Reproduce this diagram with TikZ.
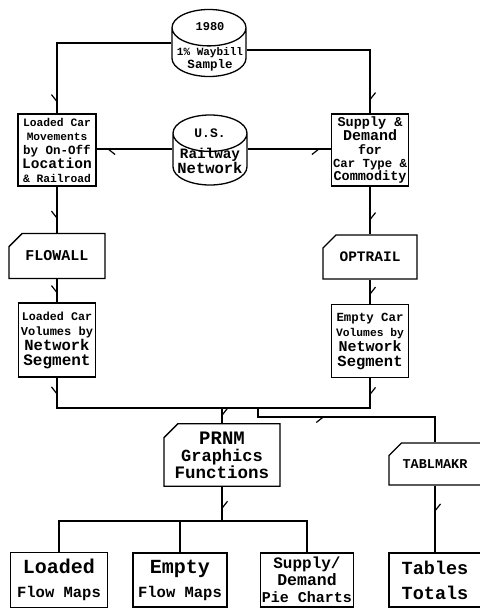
\documentclass[tikz,border=0pt]{standalone}
\usepackage{fontspec}
\setmonofont{Liberation Mono}
\usetikzlibrary{shapes.geometric,shapes.misc,arrows.meta,decorations.markings}

\newcommand\fsz[2]{{\fontsize{#1}{#1}\selectfont #2}}

\tikzset{
  lead/.style={font=\ttfamily\bfseries\fontsize{12}{#1}\selectfont},
  box/.style={draw, line width=1.3pt, rectangle, align=center, inner sep=1pt, lead=14pt},
  card/.style={box, chamfered rectangle, chamfered rectangle corners=north west, chamfered rectangle sep=7pt},
  drum/.style={draw, line width=1.3pt, cylinder, shape border rotate=90, aspect=0.52,
    minimum width=74pt, minimum height=67pt, inner sep=0pt, anchor=shape center},
  label/.style={align=center, inner sep=0pt, lead=14pt},
  flow/.style={line width=2.4pt},
  barb/.style={postaction={decorate}, decoration={markings, mark=at position #1 with
    {\arrow{Straight Barb[harpoon, length=7pt, width=11pt, line width=1.2pt]}}}},
  barbswap/.style={postaction={decorate}, decoration={markings, mark=at position #1 with
    {\arrow{Straight Barb[harpoon, swap, length=7pt, width=11pt, line width=1.2pt]}}}}
}

\begin{document}
\begin{tikzpicture}[x=1pt, y=-1pt]
\useasboundingbox (0,0) rectangle (479,609);

% data sources
\node[drum] (waybill) at (209,43) {\hspace*{70pt}};
\node[label, lead=13pt] (waybilltext) at (210,46.5) {\fsz{12}{1980}\\[12pt]\fsz{11}{1\% Waybill}\\\fsz{12.5}{Sample}};
\node[drum, minimum height=70pt] (network) at (210,150) {\hspace*{70pt}};
\node[label] (networktext) at (210,151.5) {\fsz{13}{U.S.}\\[7pt]\fsz{14.3}{Railway}\\\fsz{15.5}{Network}};

% first row
\node[box, minimum width=78pt, minimum height=72pt] (movements) at (57,150)
  {\fsz{11.3}{Loaded Car}\\\fsz{11.2}{Movements}\\\fsz{12.5}{by On-Off}\\\fsz{14.5}{Location}\\\fsz{11.3}{\& Railroad}};
\node[box, minimum width=77pt, minimum height=72pt, lead=13.3pt] (supply) at (370,150)
  {\fsz{13.5}{Supply \&}\\\fsz{15}{Demand}\\\fsz{13.3}{for}\\\fsz{12.3}{Car Type \&}\\\fsz{13.5}{Commodity}};

% programs
\node[card, minimum width=96pt, minimum height=45pt] (flowall) at (57,256) {\fsz{15}{FLOWALL}};
\node[card, minimum width=94pt, minimum height=44pt] (optrail) at (370,257) {\fsz{14.5}{OPTRAIL}};

% volumes
\node[box, minimum width=77pt, minimum height=74pt, lead=15pt] (loadvol) at (57,340)
  {\fsz{11.7}{Loaded Car}\\\fsz{12}{Volumes by}\\\fsz{15.5}{Network}\\\fsz{16}{Segment}};
\node[box, minimum width=77pt, minimum height=73pt, lead=15pt] (emptyvol) at (370,341)
  {\fsz{12.4}{Empty Car}\\\fsz{11.3}{Volumes by}\\\fsz{15}{Network}\\\fsz{15.5}{Segment}};

\node[card, minimum width=116pt, minimum height=57pt, lead=17pt] (prnm) at (222,455)
  {\fsz{19}{PRNM}\\\fsz{17}{Graphics}\\\fsz{17.5}{Functions}};
\node[card, minimum width=92pt, minimum height=42pt] (tablmakr) at (435,464) {\fsz{13.5}{TABLMAKR}};

% outputs
\node[box, minimum width=97pt, minimum height=55pt, lead=24pt] (loadmap) at (59,580)
  {\fsz{20}{Loaded}\\\fsz{15.5}{Flow Maps}};
\node[box, minimum width=94pt, minimum height=54pt, lead=24pt] (emptymap) at (180,580)
  {\fsz{20}{Empty}\\\fsz{15.5}{Flow Maps}};
\node[box, minimum width=93pt, minimum height=54pt, lead=17pt] (piechart) at (307,580)
  {\fsz{16}{Supply/}\\\fsz{16.5}{Demand}\\\fsz{15}{Pie Charts}};
\node[box, minimum width=92pt, minimum height=54pt, lead=25pt] (tables) at (435,580)
  {\fsz{18.5}{Tables}\\\fsz{18.5}{Totals}};

\coordinate (join) at (222,408);
\coordinate (tab) at (258,408);
\coordinate (split) at (222,521);

% connectors
\draw[flow, barbswap=-10pt] (waybill.shape center -| waybill.west) -| (movements.north);
\draw[flow, barb=-12pt] ([yshift=-7pt]waybill.shape center -| waybill.east) -| (supply.north);
\draw[flow, barb=-10pt] ([yshift=1pt]network.shape center -| network.west) -- ++(-76,0);
\draw[flow, barbswap=-10pt] ([yshift=1pt]network.shape center -| network.east) -- ++(83,0);
\draw[flow, barbswap=-13pt] (movements.south) -- (flowall.north);
\draw[flow, barb=-13pt] (supply.south) -- (optrail.north);
\draw[flow, barbswap=-8pt] (flowall.south) -- (loadvol.north);
\draw[flow, barb=-8pt] (optrail.south) -- (emptyvol.north);
\draw[flow, barbswap=18pt] (loadvol.south) |- (join);
\draw[flow, barb=18pt] (emptyvol.south) |- (join);
\draw[flow, barb=-6pt] (join) -- (prnm.north);
\draw[flow, barbswap=76pt] (tab) -- ++(0,9) -| (tablmakr.north);
\draw[flow, barb=-11pt] (prnm.south) -- (split);
\draw[flow] (split) -| (loadmap.north);
\draw[flow] (split) -| (piechart.north);
\draw[flow] (emptymap.north) -- (emptymap.north |- split);
\draw[flow, barb=27pt] (tablmakr.south) -- (tables.north);
\end{tikzpicture}
\end{document}
